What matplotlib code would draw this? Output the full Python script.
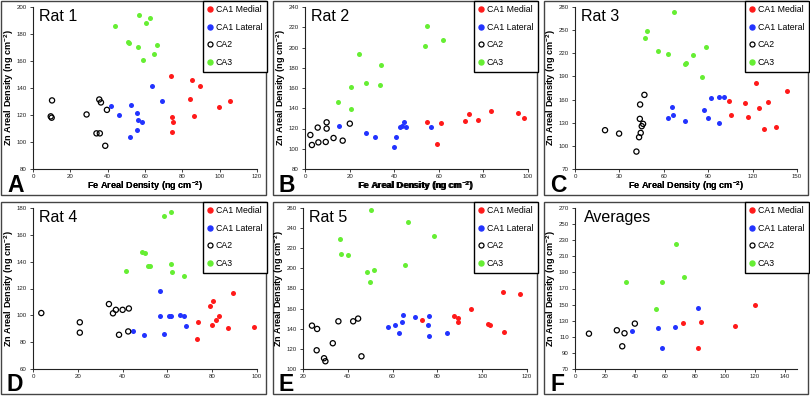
import matplotlib
matplotlib.use("Agg")
import matplotlib.pyplot as plt
from matplotlib.patches import Rectangle
from matplotlib.lines import Line2D

plt.rcParams['font.family'] = ['Liberation Sans', 'DejaVu Sans']
plt.rcParams['mathtext.fontset'] = 'custom'
plt.rcParams['mathtext.rm'] = 'Liberation Sans'
plt.rcParams['mathtext.bf'] = 'Liberation Sans:bold'

# ---------------- DATA ----------------
groups = ["CA1 Medial", "CA1 Lateral", "CA2", "CA3"]
titles = ["Rat 1", "Rat 2", "Rat 3", "Rat 4", "Rat 5", "Averages"]
letters = ["A", "B", "C", "D", "E", "F"]

# Rat 1
rat1_medial_fe = [73.9, 85.1, 89.6, 84.2, 105.7, 99.6, 86.5, 74.5, 75.0, 74.6]
rat1_medial_zn = [148.9, 145.8, 141.8, 131.5, 130.5, 125.8, 119.2, 118.3, 114.6, 107.6]
rat1_lateral_fe = [63.6, 69.1, 41.9, 52.5, 46.2, 55.7, 56.3, 58.4, 55.9, 51.8]
rat1_lateral_zn = [141.5, 130.4, 126.4, 127.6, 120.0, 121.3, 116.5, 115.0, 109.1, 103.5]
rat1_ca2_fe = [10.2, 9.5, 10.0, 28.7, 35.5, 36.4, 39.6, 34.0, 35.8, 38.7]
rat1_ca2_zn = [130.8, 119.0, 118.0, 120.4, 131.5, 129.3, 123.8, 106.4, 106.4, 97.2]
rat1_ca3_fe = [56.6, 62.7, 60.5, 43.9, 51.0, 51.6, 56.0, 66.5, 65.0, 58.7]
rat1_ca3_zn = [193.8, 191.6, 187.9, 186.0, 173.9, 173.4, 170.7, 172.2, 165.0, 161.0]

# Rat 2
rat2_medial_fe = [83.4, 95.7, 73.4, 98.2, 71.6, 77.6, 54.8, 61.2, 59.0]
rat2_medial_zn = [137.0, 135.7, 134.1, 130.8, 127.8, 128.1, 126.1, 125.1, 104.4]
rat2_lateral_fe = [15.4, 27.3, 31.3, 40.7, 39.9, 42.4, 43.4, 44.6, 45.5, 56.3]
rat2_lateral_zn = [122.8, 115.3, 111.6, 111.6, 101.4, 121.2, 122.5, 126.8, 121.5, 121.8]
rat2_ca2_fe = [2.4, 3.1, 6.0, 5.7, 9.3, 9.7, 9.7, 12.8, 16.9, 20.1]
rat2_ca2_zn = [113.6, 103.7, 106.3, 120.9, 106.7, 126.1, 119.9, 110.6, 108.0, 124.8]
rat2_ca3_fe = [54.5, 61.8, 53.7, 24.2, 33.9, 27.2, 33.7, 20.6, 14.9, 20.7]
rat2_ca3_zn = [220.9, 207.3, 201.4, 193.5, 182.6, 165.4, 163.1, 160.8, 145.9, 139.3]

# Rat 3
rat3_medial_fe = [122.5, 143.5, 104.0, 115.0, 130.2, 124.5, 105.6, 116.6, 127.5, 135.6]
rat3_medial_zn = [181.7, 170.5, 158.0, 155.0, 157.1, 149.7, 139.7, 138.0, 122.0, 124.6]
rat3_lateral_fe = [101.0, 97.5, 91.9, 65.4, 87.3, 66.5, 62.5, 90.0, 74.2, 97.0]
rat3_lateral_zn = [163.5, 162.7, 161.4, 151.0, 147.1, 139.7, 136.3, 136.3, 132.0, 129.4]
rat3_ca2_fe = [20.3, 29.8, 46.9, 44.0, 43.8, 46.0, 45.1, 44.4, 43.3, 41.5]
rat3_ca2_zn = [120.3, 115.9, 166.1, 153.6, 135.0, 128.5, 125.5, 116.8, 111.2, 92.6]
rat3_ca3_fe = [67.2, 48.5, 47.2, 56.2, 62.9, 79.4, 74.9, 74.2, 88.4, 85.7]
rat3_ca3_zn = [273.5, 248.4, 239.7, 222.9, 219.0, 217.7, 207.3, 206.0, 227.6, 189.1]

# Rat 4
rat4_medial_fe = [89.1, 80.4, 79.1, 83.0, 81.8, 73.6, 79.7, 86.9, 98.5, 73.0]
rat4_medial_zn = [116.6, 110.7, 106.7, 99.5, 96.5, 95.3, 92.6, 90.8, 91.2, 82.1]
rat4_lateral_fe = [56.7, 56.7, 60.7, 61.6, 65.8, 67.6, 68.1, 44.8, 49.6, 58.7]
rat4_lateral_zn = [118.5, 99.5, 99.7, 99.7, 100.0, 99.7, 91.8, 88.6, 85.5, 86.3]
rat4_ca2_fe = [3.7, 20.9, 20.9, 33.9, 35.7, 37.0, 40.0, 42.8, 38.4, 42.5]
rat4_ca2_zn = [101.7, 94.8, 87.1, 108.4, 101.5, 104.1, 104.1, 105.1, 85.5, 88.0]
rat4_ca3_fe = [58.6, 61.8, 48.8, 50.1, 41.5, 51.5, 52.4, 61.5, 62.2, 67.3]
rat4_ca3_zn = [174.0, 177.0, 147.4, 146.4, 132.8, 137.0, 137.0, 138.3, 132.5, 129.1]

# Rat 5
rat5_medial_fe = [109.3, 116.7, 94.8, 87.3, 89.1, 73.0, 89.0, 102.4, 103.7, 109.6]
rat5_medial_zn = [176.6, 174.9, 160.0, 152.4, 151.1, 148.4, 147.1, 144.8, 143.4, 137.1]
rat5_lateral_fe = [64.8, 69.9, 76.1, 64.0, 57.9, 60.9, 63.0, 75.8, 76.4, 84.2]
rat5_lateral_zn = [153.4, 151.7, 152.7, 146.4, 141.8, 144.1, 135.8, 143.4, 132.8, 136.2]
rat5_ca2_fe = [24.0, 26.3, 35.8, 42.4, 44.6, 33.3, 26.1, 29.4, 30.0, 46.1]
rat5_ca2_zn = [143.1, 139.8, 147.4, 147.4, 150.1, 125.6, 118.6, 110.7, 107.7, 112.6]
rat5_ca3_fe = [50.4, 66.9, 78.4, 36.4, 36.9, 39.9, 65.7, 48.4, 51.6, 49.9]
rat5_ca3_zn = [258.3, 246.1, 232.2, 229.2, 214.6, 213.0, 203.4, 196.8, 198.5, 186.8]

# Averages
avg_medial_fe = [120.0, 72.0, 84.2, 106.8, 81.7]
avg_medial_zn = [149.5, 127.1, 127.9, 122.9, 95.9]
avg_lateral_fe = [81.7, 55.2, 66.7, 38.3, 58.3]
avg_lateral_zn = [145.7, 121.2, 122.5, 117.5, 96.4]
avg_ca2_fe = [9.3, 27.9, 33.0, 39.9, 31.5]
avg_ca2_zn = [113.9, 118.1, 114.4, 126.4, 98.2]
avg_ca3_fe = [67.3, 72.7, 34.1, 58.3, 53.8]
avg_ca3_zn = [225.3, 184.7, 178.1, 177.7, 144.9]

# axis ticks per panel
xticks_list = [list(range(0, 121, 20)), list(range(0, 101, 20)), list(range(0, 151, 30)),
               list(range(0, 101, 20)), list(range(20, 121, 20)), list(range(0, 141, 20))]
yticks_list = [list(range(80, 201, 20)), list(range(80, 241, 20)), list(range(70, 281, 30)),
               list(range(60, 181, 20)), list(range(100, 261, 20)), list(range(70, 271, 20))]
xlims = [(0, 120), (0, 100), (0, 150), (0, 100), (20, 120), (0, 148)]

panels = [
    (rat1_medial_fe, rat1_medial_zn, rat1_lateral_fe, rat1_lateral_zn, rat1_ca2_fe, rat1_ca2_zn, rat1_ca3_fe, rat1_ca3_zn),
    (rat2_medial_fe, rat2_medial_zn, rat2_lateral_fe, rat2_lateral_zn, rat2_ca2_fe, rat2_ca2_zn, rat2_ca3_fe, rat2_ca3_zn),
    (rat3_medial_fe, rat3_medial_zn, rat3_lateral_fe, rat3_lateral_zn, rat3_ca2_fe, rat3_ca2_zn, rat3_ca3_fe, rat3_ca3_zn),
    (rat4_medial_fe, rat4_medial_zn, rat4_lateral_fe, rat4_lateral_zn, rat4_ca2_fe, rat4_ca2_zn, rat4_ca3_fe, rat4_ca3_zn),
    (rat5_medial_fe, rat5_medial_zn, rat5_lateral_fe, rat5_lateral_zn, rat5_ca2_fe, rat5_ca2_zn, rat5_ca3_fe, rat5_ca3_zn),
    (avg_medial_fe, avg_medial_zn, avg_lateral_fe, avg_lateral_zn, avg_ca2_fe, avg_ca2_zn, avg_ca3_fe, avg_ca3_zn),
]

# ---------------- LAYOUT (pixels) ----------------
W, H = 810, 397
fig = plt.figure(figsize=(W / 100, H / 100), dpi=100)

# axes boxes: left, right, top, bottom in px
axes_px = [(33, 257, 7, 169), (305, 528, 7, 169), (575, 797, 7, 169),
           (33, 257, 208, 369), (303, 527, 208, 369), (575, 797, 208, 369)]
# panel frames: left, right, top, bottom in px
frames_px = [(1, 266, 1, 195), (273, 537, 1, 195), (544, 808, 1, 195),
             (1, 266, 202, 394), (273, 537, 202, 394), (544, 808, 202, 394)]

RED = '#ff1a1a'
BLUE = '#2233ff'
GREEN = '#66ee33'

for i in range(6):
    l, r, t, b = axes_px[i]
    ax = fig.add_axes([l / W, (H - b) / H, (r - l) / W, (b - t) / H])
    ax.set_facecolor('none')
    mfe, mzn, lfe, lzn, cfe, czn, gfe, gzn = panels[i]
    ax.scatter(mfe, mzn, s=13, color=RED, linewidths=0, zorder=3)
    ax.scatter(lfe, lzn, s=13, color=BLUE, linewidths=0, zorder=3)
    ax.scatter(cfe, czn, s=14, facecolors='none', edgecolors='black', linewidths=0.9, zorder=3)
    ax.scatter(gfe, gzn, s=13, color=GREEN, linewidths=0, zorder=3)

    ax.set_xlim(*xlims[i])
    ax.set_ylim(yticks_list[i][0], yticks_list[i][-1])
    ax.set_xticks(xticks_list[i])
    ax.set_yticks(yticks_list[i])
    ax.tick_params(axis='both', labelsize=4.4, length=2, width=0.6, colors='#222222')
    ax.tick_params(axis='x', pad=1.5)
    ax.tick_params(axis='y', pad=2.5)
    for s in ['top', 'right']:
        ax.spines[s].set_visible(False)
    for s in ['left', 'bottom']:
        ax.spines[s].set_color('#222222')
        ax.spines[s].set_linewidth(0.8)

    ax.set_xlabel(r'Fe Areal Density (ng cm$^{\mathbf{-2}}$)', fontsize=6.6, fontweight='bold')
    ax.set_ylabel(r'Zn Areal Density (ng cm$^{\mathbf{-2}}$)', fontsize=6.6, fontweight='bold')
    ax.xaxis.set_label_coords(0.5, -(186 - b) / (b - t))
    ax.xaxis.label.set_va('center')
    ax.yaxis.set_label_coords(-23.5 / (r - l), 0.5)
    ax.yaxis.label.set_va('center')

    ax.text((6 if i < 5 else 9) / (r - l), 0.915, titles[i], transform=ax.transAxes,
            fontsize=11.5, va='baseline', ha='left')

    fl, fr, ft, fb = frames_px[i]
    fig.text((fl + 6) / W, (H - (fb - 3)) / H, letters[i], fontsize=16.5,
             fontweight='bold', ha='left', va='baseline')
    fig.patches.append(Rectangle((fl / W, (H - fb) / H), (fr - fl) / W, (fb - ft) / H,
                                 transform=fig.transFigure, fill=False,
                                 edgecolor='#444444', linewidth=1.0, zorder=-1))

    handles = [Line2D([], [], ls='none', marker='o', ms=3.6, mfc=RED, mec=RED),
               Line2D([], [], ls='none', marker='o', ms=3.6, mfc=BLUE, mec=BLUE),
               Line2D([], [], ls='none', marker='o', ms=3.6, mfc='none', mec='black', mew=0.9),
               Line2D([], [], ls='none', marker='o', ms=3.6, mfc=GREEN, mec=GREEN)]
    leg = ax.legend(handles, groups, loc='upper right',
                    bbox_to_anchor=((fr + 0.5) / W, (H - ft + 0.5) / H),
                    bbox_transform=fig.transFigure, borderaxespad=0,
                    fontsize=6.3, frameon=True, fancybox=False, framealpha=1,
                    edgecolor='black', handlelength=0.6, handletextpad=0.4,
                    labelspacing=1.0, borderpad=0.5)
    leg.get_frame().set_linewidth(1.0)
    leg.set_zorder(5)

fig.savefig('out.png', dpi=100)
